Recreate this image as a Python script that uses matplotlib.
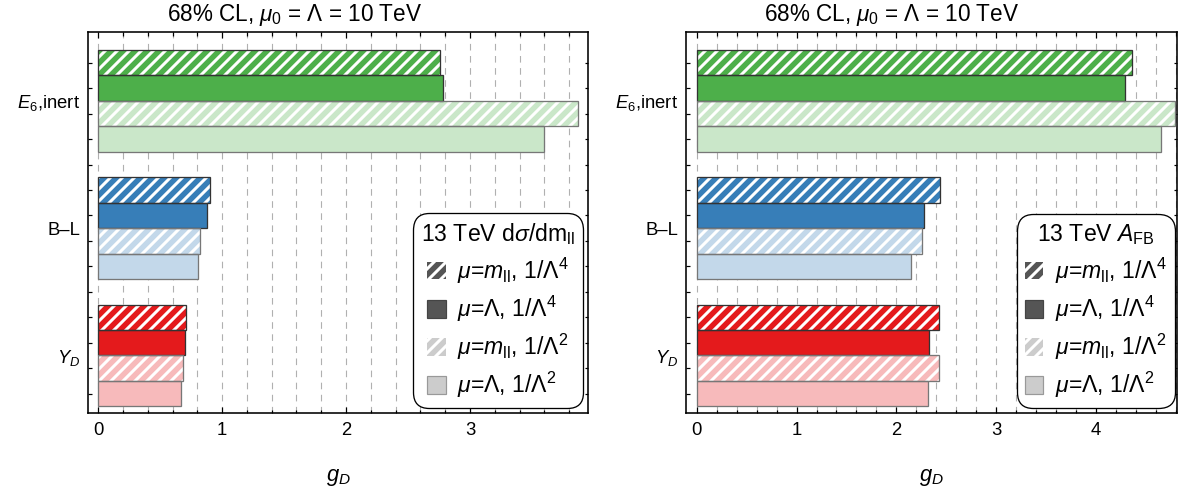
import numpy as np
import matplotlib
matplotlib.use("Agg")
from matplotlib import pyplot as plt
from matplotlib.patches import Patch

plt.rcParams['font.family'] = ['Liberation Sans', 'DejaVu Sans']
plt.rcParams['mathtext.fontset'] = 'custom'
plt.rcParams['mathtext.rm'] = 'Liberation Sans'
plt.rcParams['mathtext.it'] = 'Liberation Sans:italic'
plt.rcParams['mathtext.bf'] = 'Liberation Sans:bold'
plt.rcParams['hatch.linewidth'] = 3.0

# data
models = [r"$E_6$,inert", "B\u2013L", r"$Y_D$"]
series = [r"$\mu$=$m_{\rm ll}$, 1/$\Lambda^4$", r"$\mu$=$\Lambda$, 1/$\Lambda^4$",
          r"$\mu$=$m_{\rm ll}$, 1/$\Lambda^2$", r"$\mu$=$\Lambda$, 1/$\Lambda^2$"]

# 13 TeV dsigma/dm_ll
dsig_hatch4 = [2.76, 0.90, 0.708]
dsig_solid4 = [2.78, 0.875, 0.697]
dsig_hatch2 = [3.87, 0.823, 0.681]
dsig_solid2 = [3.60, 0.807, 0.665]

# 13 TeV A_FB
afb_hatch4 = [4.36, 2.436, 2.43]
afb_solid4 = [4.29, 2.28, 2.33]
afb_hatch2 = [4.79, 2.26, 2.43]
afb_solid2 = [4.65, 2.145, 2.32]

model_colors = ['#4daf4a', '#377eb8', '#e41a1c']


def lighten(c, a=0.3):
    rgb = np.array(matplotlib.colors.to_rgb(c))
    return tuple(a * rgb + (1 - a) * np.ones(3))


def draw_panel(ax, vals, xlim, legend_title, leg_anchor, title_x):
    hatched = [True, False, True, False]
    light = [False, False, True, True]
    for i in range(len(models)):
        for j in range(4):
            y = 5 * i + j
            c = model_colors[i]
            fc = lighten(c) if light[j] else c
            ec = '#777777' if light[j] else '#333333'
            w = vals[j][i]
            if hatched[j]:
                ax.barh(y, w, height=1, color=fc, hatch='//', edgecolor='white', lw=0, zorder=2)
            else:
                ax.barh(y, w, height=1, color=fc, lw=0, zorder=2)
            ax.barh(y, w, height=1, fill=False, edgecolor=ec, lw=1.3, zorder=3)

    ax.set_xlim(*xlim)
    ax.set_ylim(13.76, -1.22)
    ax.set_xticks(np.arange(0, xlim[1], 1.0))
    ax.set_xticks(np.arange(0, xlim[1], 0.2), minor=True)
    ax.set_yticks([1.5, 6.5, 11.5])
    ax.set_yticklabels(models)
    ax.set_yticks(np.arange(0, 14), minor=True)
    ax.grid(which='both', axis='x', ls=(0, (6, 5)), color='#b0b0b0', lw=1.1)
    ax.set_axisbelow(True)
    ax.tick_params(axis='x', which='both', direction='in', top=True, bottom=True,
                   labelsize=18.5, pad=9, width=1.2)
    ax.tick_params(axis='x', which='major', length=6)
    ax.tick_params(axis='x', which='minor', length=3.5)
    ax.tick_params(axis='y', which='major', length=0, labelsize=18.5, pad=8)
    ax.tick_params(axis='y', which='minor', direction='in', left=True, right=True,
                   length=3.5, width=1.2)
    for s in ax.spines.values():
        s.set_linewidth(1.6)
    fig.text(title_x, 1 - 15 / 488, r"68% CL, $\mu_0$ = $\Lambda$ = 10 TeV",
             fontsize=22.5, ha='center', va='center')
    ax.set_xlabel(r"$g_D$", fontsize=22, labelpad=28)

    handles = [
        Patch(facecolor='#555555', edgecolor='white', hatch='//', lw=0),
        Patch(facecolor='#555555', edgecolor='#444444', lw=1.2),
        Patch(facecolor='#cccccc', edgecolor='white', hatch='//', lw=0),
        Patch(facecolor='#cccccc', edgecolor='#999999', lw=1.2),
    ]
    leg = ax.legend(handles, series, title=legend_title, loc='lower right',
                    bbox_to_anchor=leg_anchor, fontsize=23, title_fontsize=23,
                    handlelength=0.8, handleheight=0.8, handletextpad=0.5,
                    labelspacing=0.35, borderpad=0.35, borderaxespad=0.2,
                    fancybox=True, framealpha=1)
    leg.get_frame().set_edgecolor('black')
    leg.get_frame().set_linewidth(1.3)
    leg.get_frame().set_boxstyle('round,pad=0,rounding_size=0.7')
    leg.set_zorder(5)


fig = plt.figure(figsize=(1183 / 72, 488 / 72), dpi=72)
ax1 = fig.add_axes([88.3 / 1183, 75 / 488, 499.4 / 1183, 381.3 / 488])
ax2 = fig.add_axes([686 / 1183, 75 / 488, 490.7 / 1183, 381.3 / 488])

draw_panel(ax1, [dsig_hatch4, dsig_solid4, dsig_hatch2, dsig_solid2], (-0.08, 3.95),
           r"13 TeV d$\sigma$/dm$_{\rm ll}$", (1, 0), 295 / 1183)
draw_panel(ax2, [afb_hatch4, afb_solid4, afb_hatch2, afb_solid2], (-0.108, 4.81),
           r"13 TeV $A_{\rm FB}$", (1.005, 0), 892 / 1183)

fig.savefig('out.png', dpi=72)
